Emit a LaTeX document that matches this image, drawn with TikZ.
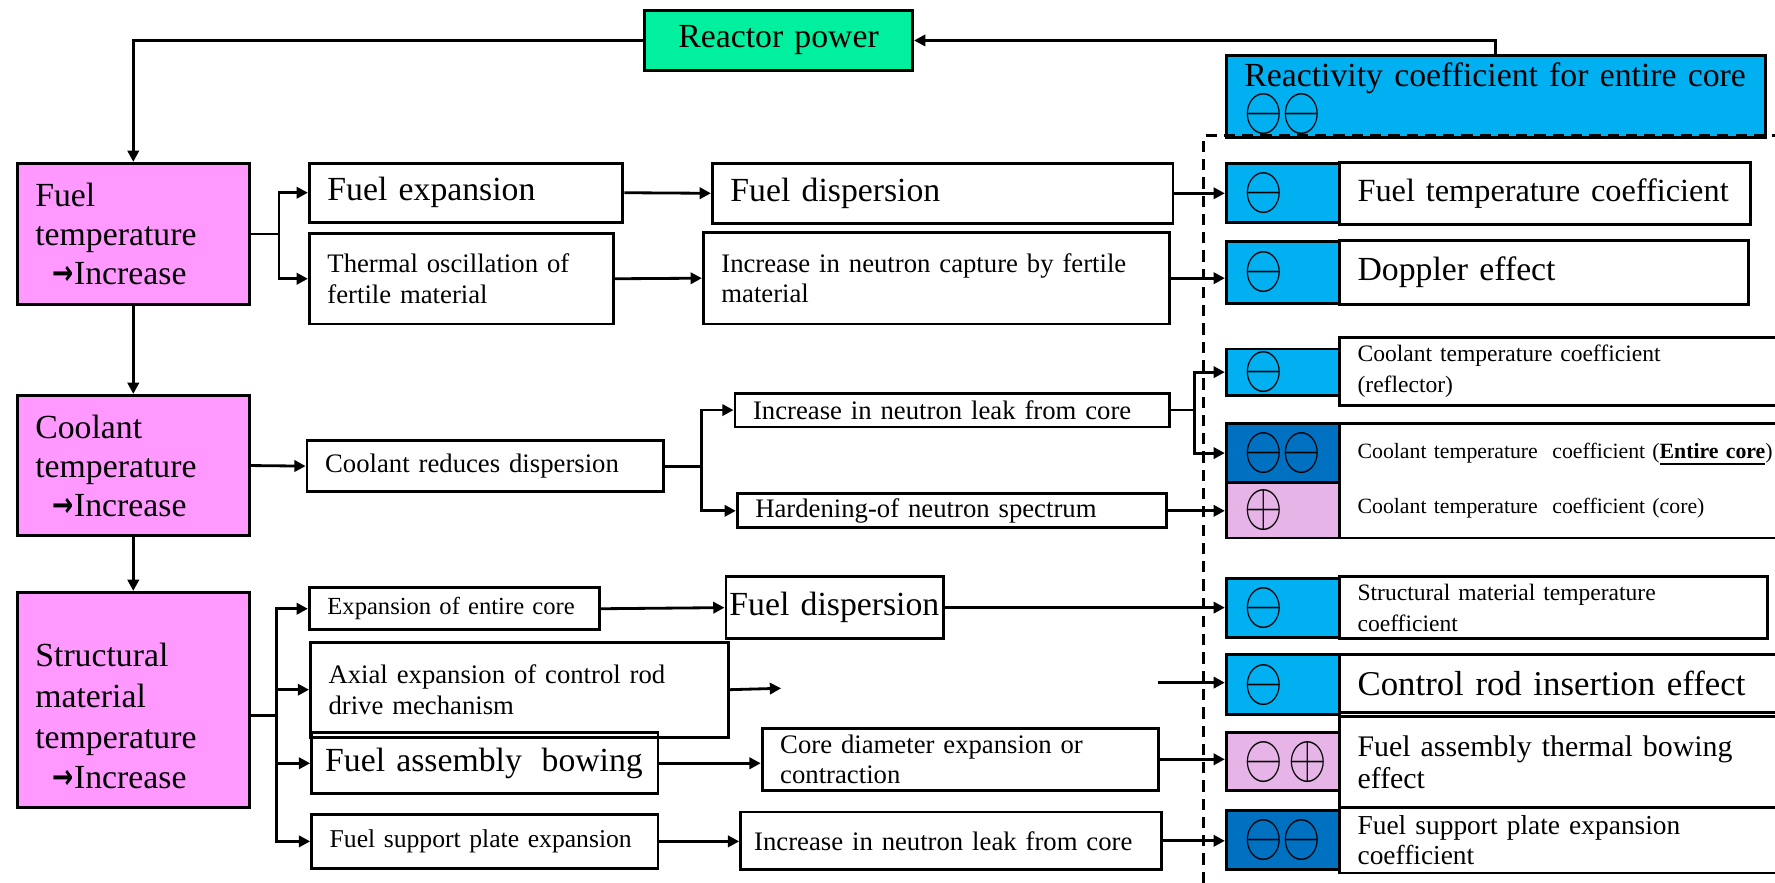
\documentclass[tikz,border=0pt]{standalone}
\usepackage{fontspec}
\usepackage{graphicx}
\setmainfont{Liberation Serif}
\newfontfamily\symfont{DejaVu Sans}
\usetikzlibrary{arrows.meta}
\definecolor{powgreen}{RGB}{0,240,160}
\definecolor{lblue}{RGB}{0,176,240}
\definecolor{dblue}{RGB}{0,112,192}
\definecolor{mpink}{RGB}{255,153,255}
\definecolor{lpink}{RGB}{230,180,230}
\newcommand\pxu{0.1132mm}
\newcommand\fL{\fontsize{9.6}{11.1}\selectfont}
\newcommand\fM{\fontsize{7.6}{8.7}\selectfont}
\newcommand\fS{\fontsize{6.7}{8.8}\selectfont}
\newcommand\sgm{{\fontsize{14}{14}\selectfont\scalebox{0.98}[1.22]{$\ominus$}}}
\newcommand\sgp{{\fontsize{14}{14}\selectfont\scalebox{0.98}[1.22]{$\oplus$}}}
\newcommand\incr{{\symfont\bfseries\scalebox{0.75}[1]{→}}Increase}
\tikzset{
	bx/.style 2 args={draw, line width=0.8pt, anchor=north west, inner xsep=16*\pxu, inner ysep=0pt,
		minimum width=#1*\pxu, minimum height=#2*\pxu, text width=(#1-32)*\pxu, align=left},
	sg/.style={bx={100}{#1}}
}
\begin{document}
\begin{tikzpicture}[x=\pxu, y=-\pxu, line width=0.8pt, >={Triangle[length=3.2pt,width=3.2pt]}]
	\useasboundingbox (0,0) rectangle (1568,780);
	\node[bx={237}{53}, fill=powgreen, align=center, font=\fL] (pow) at (568,8) {Reactor power};
	\node[bx={476}{72}, fill=lblue, font=\fontsize{9.6}{12.2}\selectfont] (rc) at (1082,48) {Reactivity coefficient for entire core\\\smash{\sgm\sgm}};
	\node[bx={205}{125}, fill=mpink, font=\fL] (ft) at (14,143) {Fuel\\temperature\\\hspace*{5pt}\incr};
	\node[bx={205}{124}, fill=mpink, font=\fL] (ct) at (14,348) {Coolant\\temperature\\\hspace*{5pt}\incr};
	\node[bx={205}{190}, fill=mpink, font=\fontsize{9.6}{11.6}\selectfont] (st) at (14,522) {\rule{0pt}{16pt}Structural\\material\\temperature\\\hspace*{5pt}\incr};
	\node[bx={277}{52}, font=\fL] (fexp) at (272,143) {Fuel expansion};
	\node[bx={269}{80}, font=\fM] (therm) at (272,205) {Thermal oscillation of\\fertile material};
	\node[bx={315}{45}, font=\fM] (cred) at (270,388) {Coolant reduces dispersion};
	\node[bx={256}{37}, font=\fontsize{7}{8}\selectfont] (eec) at (272,518) {Expansion of entire core};
	\node[bx={369}{84}, font=\fM] (axial) at (273,566) {Axial expansion of control rod\\drive mechanism};
	\node[bx={306}{54}, font=\fL, inner xsep=12*\pxu, text width=282*\pxu] (fab) at (274,646) {Fuel assembly\hspace{0.25em} bowing};
	\node[bx={306}{48}, font=\fontsize{7.3}{8.4}\selectfont] (fsp) at (274,718) {Fuel support plate expansion};
	\node[bx={407}{53}, font=\fL] (fdis) at (628,143) {Fuel dispersion};
	\node[bx={412}{81}, font=\fM] (cap) at (620,204) {Increase in neutron capture by fertile\\material};
	\node[bx={384}{30}, font=\fM] (leak) at (648,346) {Increase in neutron leak from core};
	\node[bx={379}{30}, font=\fM] (hard) at (650,435) {Hardening-of neutron spectrum};
	\node[bx={192}{55}, font=\fL, inner xsep=1pt, text width=186*\pxu] (fdis2) at (640,508) {Fuel dispersion};
	\node[bx={350}{55}, font=\fM] (cdia) at (672,642) {Core diameter expansion or\\contraction};
	\node[bx={372}{51}, font=\fM, inner xsep=12*\pxu, text width=348*\pxu] (leak2) at (653,716) {Increase in neutron leak from core};
	\node[sg=52, fill=lblue] (s1) at (1082,143) {\sgm};
	\node[bx={363}{55}, font=\fontsize{9.2}{11}\selectfont] (c1) at (1182,142) {Fuel temperature coefficient};
	\node[sg=55, fill=lblue] (s2) at (1082,212) {\sgm};
	\node[bx={361}{57}, font=\fL] (c2) at (1182,211) {Doppler effect};
	\node[sg=41, fill=lblue] (s3) at (1082,307) {\sgm};
	\node[bx={400}{60}, font=\fS] (c3) at (1182,297) {Coolant temperature coefficient\\(reflector)};
	\node[sg=52, fill=dblue] (s4) at (1082,373) {\sgm\sgm};
	\node[sg=49, fill=lpink] (s4b) at (1082,425) {\sgp};
	\node[bx={400}{101}, font=\fontsize{6.2}{15.5}\selectfont] (c4) at (1182,373) {Coolant temperature\ \ coefficient (\underline{\textbf{Entire core}})\\Coolant temperature\ \ coefficient (core)};
	\node[sg=52, fill=lblue] (s5) at (1082,510) {\sgm};
	\node[bx={378}{55}, font=\fS] (c5) at (1182,508) {Structural material temperature\\coefficient};
	\node[sg=53, fill=lblue] (s6) at (1082,577) {\sgm};
	\node[bx={400}{51}, font=\fontsize{9.9}{11}\selectfont] (c6) at (1182,577) {Control rod insertion effect};
	\node[sg=51, fill=lpink] (s7) at (1082,646) {\sgm\,\sgp};
	\node[bx={400}{80}, font=\fontsize{8.5}{9.3}\selectfont] (c7) at (1182,632) {Fuel assembly thermal bowing\\effect};
	\node[sg=52, fill=dblue] (s8) at (1082,715) {\sgm\sgm};
	\node[bx={400}{58}, font=\fontsize{7.8}{8.7}\selectfont] (c8) at (1182,712) {Fuel support plate expansion\\coefficient};
	\draw[dash pattern=on 3.2pt off 2pt] (1063,780) |- (1568,120);
	\draw[->] (pow.west) -| (ft.north);
	\draw[->] (rc.north) |- (pow.east);
	\draw[->] (ft.south) -- (ct.north);
	\draw[->] (ct.south) -- (st.north);
	\draw[->] (ft.east) -- ++(25,0) coordinate (j1) |- (fexp.west);
	\draw[->] (j1) |- (therm.west);
	\draw[->] (fexp.east) -- (fdis.west);
	\draw[->] (therm.east) -- (cap.west);
	\draw[->] (fdis.east) -- (fdis.east -| s1.west);
	\draw[->] (cap.east) -- (cap.east -| s2.west);
	\draw[->] (ct.east) -- (cred.west);
	\draw[->] (cred.east) -- ++(32,0) coordinate (j2) |- (leak.west);
	\draw[->] (j2) |- (hard.west);
	\draw[->] (leak.east) -- ++(21,0) coordinate (j3) |- (s3.west);
	\draw[->] (j3) |- (s4.west);
	\draw[->] (hard.east) -- (hard.east -| s4b.west);
	\coordinate (j4) at (244,632);
	\draw (st.east |- j4) -- (j4);
	\draw[->] (j4) |- (eec.west);
	\draw[->] (j4) |- (axial.west);
	\draw[->] (j4) |- (fab.west);
	\draw[->] (j4) |- (fsp.west);
	\draw[->] (eec.east) -- (fdis2.west);
	\draw[->] (fdis2.east) -- (fdis2.east -| s5.west);
	\coordinate (ax1) at (690,608);
	\draw[->] (axial.east) -- (ax1);
	\coordinate (ax2) at (1023,603);
	\draw[->] (ax2) -- (ax2 -| s6.west);
	\draw[->] (fab.east) -- (fab.east -| cdia.west);
	\draw[->] (cdia.east) -- (cdia.east -| s7.west);
	\draw[->] (fsp.east) -- (fsp.east -| leak2.west);
	\draw[->] (leak2.east) -- (leak2.east -| s8.west);
\end{tikzpicture}
\end{document}
